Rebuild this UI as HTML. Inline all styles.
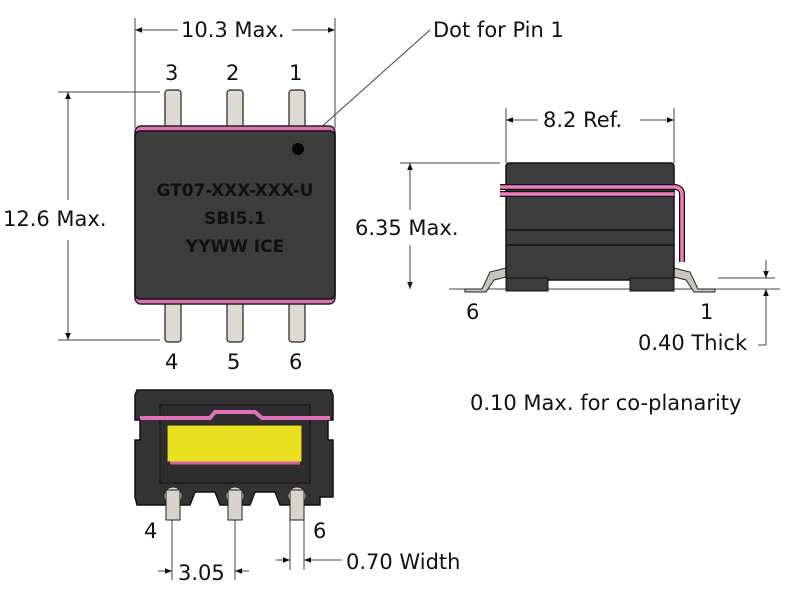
<!DOCTYPE html>
<html><head><style>body{margin:0;background:#fff}svg{display:block}text{font-family:"DejaVu Sans","Liberation Sans",sans-serif;fill:#111}</style></head><body>
<svg width="800" height="600" viewBox="0 0 800 600" xmlns="http://www.w3.org/2000/svg">
<defs>
<marker id="a" viewBox="0 0 10 10" refX="10" refY="5" markerWidth="7" markerHeight="7" orient="auto-start-reverse"><path d="M0,1 L10,5 L0,9 z" fill="#111"/></marker>
</defs>
<g stroke="#444" stroke-width="1" fill="none">
<line x1="135" y1="18" x2="135" y2="128"/><line x1="335" y1="18" x2="335" y2="128"/>
<line x1="135" y1="30" x2="178" y2="30" marker-start="url(#a)"/><line x1="292" y1="30" x2="335" y2="30" marker-end="url(#a)"/>
<line x1="430" y1="30" x2="300" y2="146" marker-end="url(#a)"/>
<line x1="58" y1="92" x2="160" y2="92"/><line x1="58" y1="340" x2="160" y2="340"/>
<line x1="68" y1="200" x2="68" y2="92" marker-end="url(#a)"/><line x1="68" y1="240" x2="68" y2="340" marker-end="url(#a)"/>
<line x1="506" y1="108" x2="506" y2="163"/><line x1="674" y1="108" x2="674" y2="163"/>
<line x1="538" y1="120" x2="506" y2="120" marker-end="url(#a)"/><line x1="640" y1="120" x2="674" y2="120" marker-end="url(#a)"/>
<line x1="400" y1="163" x2="500" y2="163"/>
<line x1="410" y1="210" x2="410" y2="163" marker-end="url(#a)"/><line x1="410" y1="245" x2="410" y2="289" marker-end="url(#a)"/>
<line x1="449" y1="289" x2="780" y2="289"/>
<line x1="718" y1="278" x2="775" y2="278"/>
<line x1="766" y1="260" x2="766" y2="278" marker-end="url(#a)"/><line x1="766" y1="345" x2="766" y2="289" marker-end="url(#a)"/>
<line x1="758" y1="345" x2="766" y2="345"/>
<line x1="172" y1="520" x2="172" y2="580"/><line x1="235" y1="520" x2="235" y2="580"/>
<line x1="158" y1="571" x2="172" y2="571" marker-end="url(#a)"/><line x1="249" y1="571" x2="235" y2="571" marker-end="url(#a)"/>
<line x1="290" y1="520" x2="290" y2="570"/><line x1="304" y1="520" x2="304" y2="570"/>
<line x1="276" y1="560" x2="290" y2="560" marker-end="url(#a)"/><line x1="342" y1="560" x2="304" y2="560" marker-end="url(#a)"/>
</g>
<g fill="#dedad2" stroke="#222" stroke-width="1.2">
<rect x="165" y="90" width="16" height="45" rx="3"/><rect x="227" y="90" width="16" height="45" rx="3"/><rect x="289" y="90" width="16" height="45" rx="3"/>
<rect x="165" y="296" width="16" height="46" rx="3"/><rect x="227" y="296" width="16" height="46" rx="3"/><rect x="289" y="296" width="16" height="46" rx="3"/>
</g>
<rect x="135" y="126" width="200" height="178" rx="6" fill="#e070b8" stroke="#222" stroke-width="1.5"/>
<rect x="135" y="131" width="200" height="168" rx="5" fill="#3c3c3c" stroke="#111" stroke-width="1.5"/>
<circle cx="298" cy="149" r="6" fill="#050505"/>
<g font-size="17" text-anchor="middle" style="font-family:'DejaVu Sans Condensed','DejaVu Sans',sans-serif" font-weight="bold"><text x="235" y="196">GT07-XXX-XXX-U</text><text x="235" y="224">SBI5.1</text><text x="235" y="252">YYWW ICE</text></g>
<path d="M465,289 L482,289 L490,272 L506,268 L506,277 L494,280 L486,292 L465,292z" fill="#c8c4bc" stroke="#222"/>
<path d="M715,289 L698,289 L690,272 L674,268 L674,277 L686,280 L694,292 L715,292z" fill="#c8c4bc" stroke="#222"/>
<rect x="506" y="163" width="168" height="117" rx="3" fill="#3c3c3c" stroke="#111" stroke-width="1.5"/>
<rect x="506" y="278" width="42" height="13" fill="#3c3c3c" stroke="#111"/><rect x="630" y="278" width="44" height="13" fill="#3c3c3c" stroke="#111"/>
<line x1="506" y1="230" x2="674" y2="230" stroke="#111" stroke-width="1.5"/><line x1="506" y1="245" x2="674" y2="245" stroke="#111" stroke-width="1.5"/>
<path d="M500,187 L674,187 Q682,187 682,195 L682,262" fill="none" stroke="#111" stroke-width="6"/>
<path d="M500,187 L674,187 Q682,187 682,195 L682,262" fill="none" stroke="#f07cc0" stroke-width="3.5"/>
<path d="M500,194 L674,194" stroke="#111" stroke-width="6"/><path d="M500,194 L674,194" stroke="#f07cc0" stroke-width="3.5"/>
<path d="M137,390 L331,390 L333,395 L333,420 L328,420 L328,440 L333,440 L333,497 L320,497 L320,505 L280,505 L275,492 L255,492 L250,505 L220,505 L215,492 L195,492 L190,505 L137,505 L135,497 L135,440 L140,440 L140,420 L135,420 L135,395z" fill="#333" stroke="#111" stroke-width="1.5"/>
<rect x="160" y="405" width="150" height="78" fill="#2e2e2e" stroke="#111"/>
<path d="M140,418 L210,418 L215,412 L255,412 L262,418 L330,418" fill="none" stroke="#e070b8" stroke-width="4"/>
<rect x="167" y="425" width="135" height="37" fill="#e8e020" stroke="#222"/>
<path d="M170,463 L300,463" stroke="#d060a0" stroke-width="3"/>
<g fill="#d8d4cc" stroke="#222"><circle cx="173" cy="496" r="9"/><circle cx="235" cy="496" r="9"/><circle cx="297" cy="496" r="9"/><rect x="166" y="490" width="14" height="30"/><rect x="228" y="490" width="14" height="30"/><rect x="290" y="490" width="14" height="30"/></g>
<g font-size="21">
<text x="181" y="37">10.3 Max.</text><text x="433" y="37">Dot for Pin 1</text>
<text x="165" y="80">3</text><text x="226" y="80">2</text><text x="289" y="80">1</text>
<text x="3" y="226">12.6 Max.</text>
<text x="165" y="369">4</text><text x="227" y="369">5</text><text x="289" y="369">6</text>
<text x="543" y="127">8.2 Ref.</text><text x="355" y="235">6.35 Max.</text>
<text x="466" y="319">6</text><text x="700" y="319">1</text>
<text x="638" y="350">0.40 Thick</text>
<text x="470" y="410">0.10 Max. for co-planarity</text>
<text x="144" y="538">4</text><text x="313" y="538">6</text>
<text x="178" y="580">3.05</text><text x="346" y="569">0.70 Width</text>
</g>
</svg>
</body></html>
